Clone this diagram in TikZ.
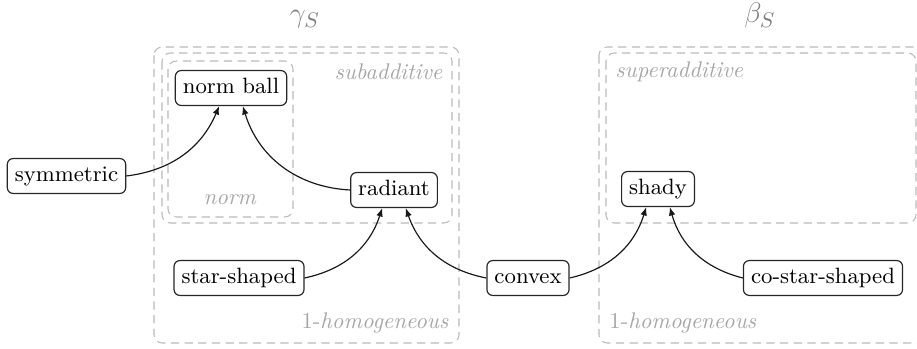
\documentclass[tikz,border=0pt]{standalone}
\usetikzlibrary{arrows.meta}
\begin{document}
\begin{tikzpicture}[x=0.424pt,y=-0.424pt,
  prop/.style={draw=black!85, line width=0.5pt, rounded corners=2.5pt, inner xsep=3.2pt, inner ysep=3pt, text height=6.8pt, text depth=2pt, font=\fontsize{9.4}{11}\selectfont},
  region/.style={draw=black!27, dash pattern=on 3.5pt off 2.3pt, line width=0.45pt, rounded corners=3.5pt},
  lbl/.style={text=black!35, inner sep=0pt, font=\fontsize{9.6}{11}\selectfont},
  title/.style={text=black!50, inner sep=0pt, font=\fontsize{13}{15}\selectfont},
  imp/.style={-{Latex[length=3.6pt,width=2.8pt]}, line width=0.5pt, draw=black!90}]
\useasboundingbox (0,0) rectangle (917,349);
\clip (0,0) rectangle (917,349);
% regions
\draw[region] (154,47) rectangle (459,343);
\draw[region] (162,53) rectangle (452,223);
\draw[region] (168,61) rectangle (293,217);
\draw[region] (599,47) rectangle (935,343);
\draw[region] (606,53) rectangle (916,223);
% titles and region labels
\node[title, anchor=base] (gam) at (305,23) {$\gamma_S$};
\node[title, anchor=base] (bet) at (760,23) {$\beta_S$};
\node[lbl, anchor=east] (lsub) at (443,72) {\textit{subadditive}};
\node[lbl] (lnorm) at (230,200) {\textit{norm}};
\node[lbl, anchor=east] (lhomA) at (449,323) {1-\textit{homogeneous}};
\node[lbl, anchor=west] (lsup) at (615,72) {\textit{superadditive}};
\node[lbl, anchor=west] (lhomB) at (609,323) {1-\textit{homogeneous}};
% properties
\node[prop] (nb) at (231,88) {norm ball};
\node[prop] (sym) at (66.5,176) {symmetric};
\node[prop] (rad) at (394,190) {radiant};
\node[prop] (star) at (239,278) {star-shaped};
\node[prop] (cvx) at (528,278) {convex};
\node[prop] (shady) at (658,189) {shady};
\node[prop] (cstar) at (823,278) {co-star-shaped};
% implications
\draw[imp] (sym.east) to[bend right=30] ([xshift=-5pt]nb.south);
\draw[imp] (rad.west) to[bend left=35] ([xshift=5pt]nb.south);
\draw[imp] (star.east) to[bend right=30] ([xshift=-5pt]rad.south);
\draw[imp] (cvx.west) to[bend left=30] ([xshift=5pt]rad.south);
\draw[imp] (cvx.east) to[bend right=30] ([xshift=-5pt]shady.south);
\draw[imp] (cstar.west) to[bend left=30] ([xshift=5pt]shady.south);
\end{tikzpicture}
\end{document}
